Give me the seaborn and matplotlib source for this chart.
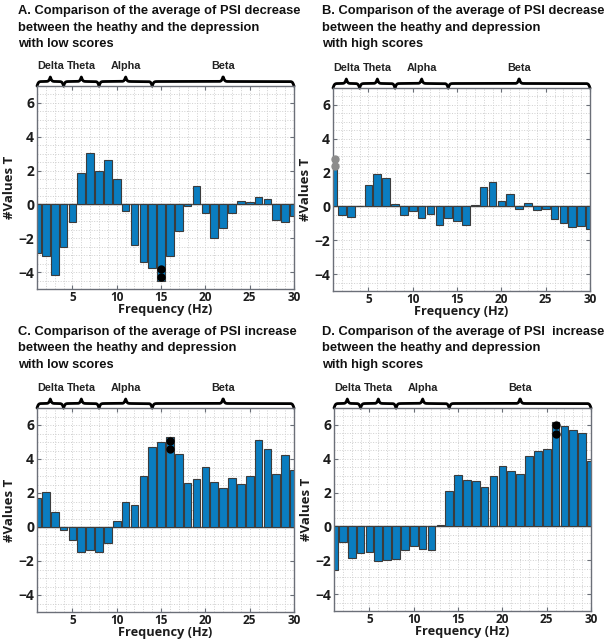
import numpy as np
import pandas as pd
import matplotlib
matplotlib.use("Agg")
import matplotlib.pyplot as plt
import matplotlib.transforms as mtransforms
import seaborn as sns

freq = list(range(1, 31))
vals_a = [-2.86, -3.06, -4.18, -2.50, -1.06, 1.88, 3.02, 1.96, 2.60, 1.53,
          -0.37, -2.37, -3.41, -3.73, -4.53, -3.06, -1.59, -0.12, 1.08, -0.53,
          -2.00, -1.41, -0.51, 0.18, 0.14, 0.43, 0.31, -0.94, -1.06, -0.67]
vals_b = [2.20, -0.53, -0.60, 0.04, 1.29, 1.94, 1.70, 0.12, -0.50, -0.30,
          -0.66, -0.43, -1.12, -0.69, -0.86, -1.12, 0.08, 1.12, 1.45, 0.33,
          0.75, -0.16, 0.18, -0.24, -0.16, -0.73, -1.00, -1.20, -1.14, -1.31]
vals_c = [1.71, 2.08, 0.86, -0.18, -0.76, -1.47, -1.37, -1.47, -0.92, 0.37,
          1.47, 1.31, 3.02, 4.71, 5.00, 5.27, 4.31, 2.57, 2.84, 3.53,
          2.63, 2.29, 2.88, 2.53, 3.02, 5.12, 4.59, 3.12, 4.24, 3.35]
vals_d = [-2.57, -0.90, -1.86, -1.59, -1.51, -2.06, -1.96, -1.92, -1.39, -1.14,
          -1.33, -1.39, 0.10, 2.08, 3.06, 2.73, 2.67, 2.31, 2.98, 3.55,
          3.25, 3.08, 4.14, 4.45, 4.55, 6.18, 5.96, 5.67, 5.51, 3.84]

sig_a_x, sig_a_y = [15, 15], [-3.84, -4.29]
sig_b_x, sig_b_y = [1.25, 1.25], [2.82, 2.37]
sig_c_x, sig_c_y = [16, 16], [5.08, 4.61]
sig_d_x, sig_d_y = [26, 26], [6.00, 5.49]

band_edges = [1, 4, 8, 14, 30]
band_names = ["Delta", "Theta", "Alpha", "Beta"]

titles = [
    "A. Comparison of the average of PSI decrease\nbetween the heathy and the depression\nwith low scores",
    "B. Comparison of the average of PSI decrease\nbetween the heathy and depression\nwith high scores",
    "C. Comparison of the average of PSI increase\nbetween the heathy and depression\nwith low scores",
    "D. Comparison of the average of PSI  increase\nbetween the heathy and depression\nwith high scores",
]

xticks = [5, 10, 15, 20, 25, 30]
yticks = [-4, -2, 0, 2, 4, 6]

sns.set_theme(style="white")
plt.rcParams["font.family"] = ["Open Sans", "DejaVu Sans"]

W, H = 607, 639
fig = plt.figure(figsize=(W / 100, H / 100), dpi=100)

BAR = "#0a7dc0"
EDGE = "#3c3c3c"
SPINE = "#6b6f78"
TXT = "#1c1c1c"


def add_ax(l, t, r, b):
    return fig.add_axes([l / W, 1 - b / H, (r - l) / W, (b - t) / H])


def brace(ax, x0, x1, label, axh_px):
    n = 400
    w_px = (x1 - x0) * 8.86
    beta = 4.0 * w_px / 3.0
    half = np.linspace(0, 0.5, n // 2)
    yh = 1 / (1 + np.exp(-beta * (half - half[0]))) + 1 / (1 + np.exp(-beta * (half - half[-1])))
    y = np.concatenate([yh, yh[::-1]])
    x = np.linspace(x0, x1, n)
    yy = 1.0 + (y - 0.5) * 9.0 / axh_px
    tr = mtransforms.blended_transform_factory(ax.transData, ax.transAxes)
    ax.plot(x, yy, color="black", lw=2.0, transform=tr, clip_on=False,
            solid_capstyle="round", solid_joinstyle="round")
    ax.text((x0 + x1) / 2, 1.0 + 20 / axh_px, label, transform=tr, ha="center", va="center",
            fontsize=7.8, fontweight="bold", color="#222222", family=["Liberation Sans", "DejaVu Sans"])


panels = [
    ((37, 86, 294, 289), vals_a, (sig_a_x, sig_a_y, "black"), (18, 5)),
    ((333, 88, 590, 291), vals_b, (sig_b_x, sig_b_y, "#8c8c8c"), (322, 5)),
    ((37, 408, 294, 612), vals_c, (sig_c_x, sig_c_y, "black"), (18, 326)),
    ((334, 408, 591, 611), vals_d, (sig_d_x, sig_d_y, "black"), (322, 326)),
]

for i, (box, vals, sig, tpos) in enumerate(panels):
    ax = add_ax(*box)
    axh = box[3] - box[1]
    df = pd.DataFrame({"freq": freq, "val": vals})
    ax.set_axisbelow(True)
    sns.barplot(data=df, x="freq", y="val", native_scale=True, width=0.86,
                color=BAR, saturation=1, errorbar=None, edgecolor=EDGE,
                linewidth=0.8, ax=ax, zorder=2)
    ax.axhline(0, color="#555555", lw=1.0, zorder=1.5)
    ax.plot(sig[0], sig[1], "o", color=sig[2], markersize=5, zorder=4, clip_on=False)
    ax.set_xlim(1, 30)
    ax.set_ylim(-5, 7)
    ax.set_xticks(xticks)
    ax.set_yticks(yticks)
    ax.set_xticks(np.arange(1, 31, 1), minor=True)
    ax.set_yticks(np.arange(-5, 7.01, 0.5), minor=True)
    ax.grid(True, which="both", color="#cfcfcf", linestyle=":", linewidth=0.7)
    ax.tick_params(which="major", direction="in", length=3, width=0.8, color=SPINE,
                   top=True, right=True, bottom=True, left=True)
    ax.tick_params(which="minor", length=0)
    ax.tick_params(axis="x", labelsize=8.5, labelcolor=TXT, pad=1.5)
    ax.tick_params(axis="y", labelsize=10, labelcolor=TXT, pad=2)
    for lab in ax.get_xticklabels() + ax.get_yticklabels():
        lab.set_fontweight("bold")
    for s in ax.spines.values():
        s.set_color(SPINE)
        s.set_linewidth(1.0)
        s.set_visible(True)
    ax.set_xlabel("Frequency (Hz)", fontsize=9.2, fontweight="bold", color=TXT, labelpad=-1)
    ax.set_ylabel("#Values T", fontsize=9.5, fontweight="bold", color=TXT, labelpad=2)
    for x0, x1, nm in zip(band_edges[:-1], band_edges[1:], band_names):
        brace(ax, x0, x1, nm, axh)
    fig.text(tpos[0] / W, 1 - tpos[1] / H, titles[i], ha="left", va="top",
             fontsize=9.3, fontweight="bold", color="#111111",
             family=["Liberation Sans", "DejaVu Sans"], linespacing=1.5)

fig.savefig("out.png", dpi=100, facecolor="white")
